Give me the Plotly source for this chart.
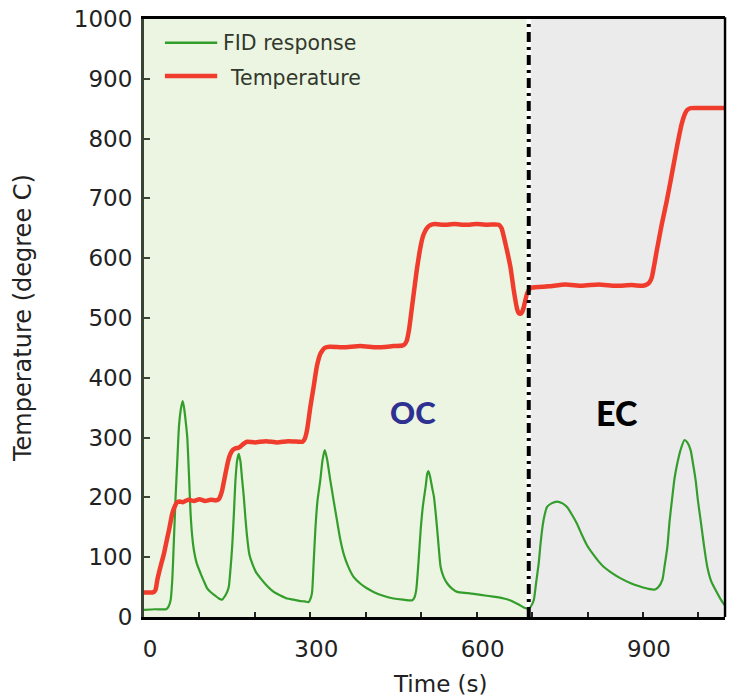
import plotly.graph_objects as go

# ---- data ----
temp_time = [0, 15, 18, 21, 24, 30, 36, 41, 45, 51, 56, 60, 65, 70, 80, 90, 100, 110, 120, 130, 135,
             138, 141, 147, 152, 156, 160, 165, 170, 174, 180, 186, 200, 220, 240, 260, 280, 286,
             290, 294, 300, 306, 312, 318, 322, 326, 335, 360, 390, 420, 450, 466, 470, 474, 478,
             485, 492, 499, 503, 507, 512, 516, 525, 540, 560, 580, 600, 620, 640, 645, 652, 661,
             667, 673, 676, 679, 682, 685, 691, 696, 700, 730, 760, 790, 820, 850, 880, 900, 907,
             912, 916, 925, 934, 943, 952, 961, 970, 976, 980, 986, 1010, 1048]
temp_value = [41, 41, 42, 46, 62, 85, 106, 128, 145, 173, 186, 192, 193, 192, 196, 194, 197, 194, 196, 195, 197,
              203, 212, 240, 262, 273, 279, 282, 283, 285, 290, 293, 292, 294, 292, 294, 293, 293,
              298, 312, 351, 385, 420, 440, 446, 450, 452, 451, 453, 451, 453, 454, 456, 462, 480,
              530, 580, 620, 636, 645, 652, 655, 657, 656, 657, 656, 657, 656, 656, 650, 624, 585,
              546, 515, 508, 507, 510, 518, 541, 549, 551, 553, 556, 554, 556, 554, 555, 554, 556,
              560, 568, 613, 657, 696, 740, 785, 825, 842, 848, 851, 851, 851]

fid_time = [0, 20, 40, 44, 48, 51, 54, 57, 60, 63, 66, 68, 70, 73, 76, 78, 81, 84, 87, 90, 95, 102,
            108, 114, 121, 128, 135, 141, 146, 150, 153, 156, 159, 162, 165, 168, 171, 174, 177,
            180, 183, 186, 190, 195, 202, 210, 220, 234, 246, 258, 270, 280, 290, 297, 300, 303,
            306, 309, 313, 318, 322, 326, 330, 336, 342, 348, 354, 360, 368, 378, 390, 402, 414,
            430, 450, 467, 484, 488, 491, 495, 499, 503, 508, 511, 513, 516, 520, 523, 526, 529,
            532, 535, 540, 547, 555, 565, 585, 607, 630, 649, 660, 667, 676, 685, 694, 698, 703,
            707, 712, 715, 718, 722, 727, 735, 745, 755, 763, 772, 781, 790, 799, 810, 820, 829,
            845, 859, 877, 895, 910, 922, 928, 935, 939, 944, 948, 953, 957, 962, 968, 975, 980,
            986, 990, 995, 999, 1004, 1010, 1016, 1023, 1031, 1040, 1048]
fid_value = [12, 13, 13, 17, 28, 62, 130, 201, 260, 318, 345, 355, 361, 345, 320, 301, 240, 173, 135, 112, 90, 73,
             60, 48, 41, 36, 31, 29, 35, 42, 51, 80, 117, 170, 229, 262, 273, 260, 230,
             201, 165, 134, 105, 90, 75, 65, 54, 42, 36, 31, 29, 27, 26, 25, 30, 40,
             90, 145, 195, 229, 262, 279, 265, 229, 195, 162, 130, 106, 85, 67, 56, 48, 42,
             36, 31, 29, 28, 33, 45, 90, 145, 185, 218, 240, 244, 235, 215, 201, 175, 145,
             112, 84, 68, 56, 48, 42, 40, 37, 34, 31, 28, 25, 21, 16, 14, 18, 28,
             55, 90, 120, 145, 168, 184, 190, 193, 190, 184, 171, 156, 137, 120, 105, 93, 84,
             73, 65, 57, 51, 47, 46, 50, 62, 85, 117, 160, 201, 232, 257, 280, 296, 292,
             279, 258, 229, 196, 162, 120, 84, 60, 45, 30, 19]

oc_ec_boundary = 694
region_labels = ["OC", "EC"]
region_label_pos = [(486, 342), (853, 342)]
legend_names = ["FID response", "Temperature"]
x_title = "Time (s)"
y_title = "Temperature (degree C)"

GREEN = "rgb(52,158,44)"
RED = "rgb(240,60,45)"
TXT = "#222"

fig = go.Figure()
fig.add_trace(go.Scatter(x=fid_time, y=fid_value, mode="lines", name=legend_names[0],
                         line=dict(color=GREEN, width=2.2, shape="spline", smoothing=0.6),
                         showlegend=False))
fig.add_trace(go.Scatter(x=temp_time, y=temp_value, mode="lines", name=legend_names[1],
                         line=dict(color=RED, width=4.5, shape="spline", smoothing=0.5),
                         showlegend=False))

shapes = [
    dict(type="rect", xref="x", yref="paper", x0=0, x1=oc_ec_boundary - 4, y0=0, y1=1,
         fillcolor="rgb(235,245,225)", line=dict(width=0), layer="below"),
    dict(type="rect", xref="x", yref="paper", x0=oc_ec_boundary + 4, x1=1044, y0=0, y1=1,
         fillcolor="rgb(235,235,235)", line=dict(width=0), layer="below"),
    dict(type="line", xref="x", yref="paper", x0=oc_ec_boundary, x1=oc_ec_boundary, y0=0, y1=1,
         line=dict(color="black", width=4, dash="10px,5px,3px,5px")),
    dict(type="line", xref="paper", yref="paper", x0=1, x1=1, y0=0, y1=1.003,
         line=dict(color="black", width=2.5)),
    # legend samples
    dict(type="line", xref="paper", yref="paper", x0=0.036, x1=0.126, y0=0.9604, y1=0.9604,
         line=dict(color=GREEN, width=2.5)),
    dict(type="line", xref="paper", yref="paper", x0=0.036, x1=0.126, y0=0.9047, y1=0.9047,
         line=dict(color=RED, width=4.5)),
]

annotations = [
    dict(x=region_label_pos[0][0], y=region_label_pos[0][1], xref="x", yref="y",
         text=region_labels[0], showarrow=False,
         font=dict(family="Lato", size=31, color="rgb(46,49,146)", weight=900)),
    dict(x=region_label_pos[1][0], y=region_label_pos[1][1], xref="x", yref="y",
         text=region_labels[1], showarrow=False,
         font=dict(family="Lato", size=34, color="black", weight=900)),
    dict(x=0.132, y=0.9604, xref="paper", yref="paper", xanchor="left", yanchor="middle",
         text=legend_names[0], showarrow=False,
         font=dict(family="DejaVu Sans", size=20.5, color="rgb(50,56,45)")),
    dict(x=0.1446, y=0.902, xref="paper", yref="paper", xanchor="left", yanchor="middle",
         text=legend_names[1], showarrow=False,
         font=dict(family="DejaVu Sans", size=20.5, color="rgb(50,56,45)")),
    dict(x=0.511, y=-0.1125, xref="paper", yref="paper", xanchor="center", yanchor="middle",
         text=x_title, showarrow=False, font=dict(family="DejaVu Sans", size=23, color=TXT)),
    dict(x=-0.2083, y=0.5, xref="paper", yref="paper", xanchor="center", yanchor="middle",
         text=y_title, textangle=-90, showarrow=False,
         font=dict(family="DejaVu Sans", size=24, color=TXT)),
]

fig.update_layout(
    width=729, height=698,
    margin=dict(l=144, r=4, t=19, b=81),
    paper_bgcolor="white", plot_bgcolor="white",
    font=dict(family="DejaVu Sans", size=23, color=TXT),
    shapes=shapes, annotations=annotations,
    showlegend=False,
)
fig.update_xaxes(
    range=[0, 1048], tickvals=[0, 300, 600, 900], ticks="inside", ticklen=5, tickwidth=2,
    tickcolor="#222", showgrid=False, zeroline=False,
    showline=True, linecolor="black", linewidth=3, mirror=True,
    minor=dict(dtick=100, tick0=0, ticks="inside", ticklen=5, tickwidth=2, tickcolor="#222", showgrid=False),
    ticklabelstandoff=9, ticklabelshift=6,
)
fig.update_yaxes(
    range=[0, 1000], dtick=100, ticks="inside", ticklen=6, tickwidth=2, tickcolor="#3a4434",
    showgrid=False, zeroline=False,
    showline=True, linecolor="#3a4434", linewidth=3,
    ticklabelstandoff=4,
)

fig.write_html("out.html")
